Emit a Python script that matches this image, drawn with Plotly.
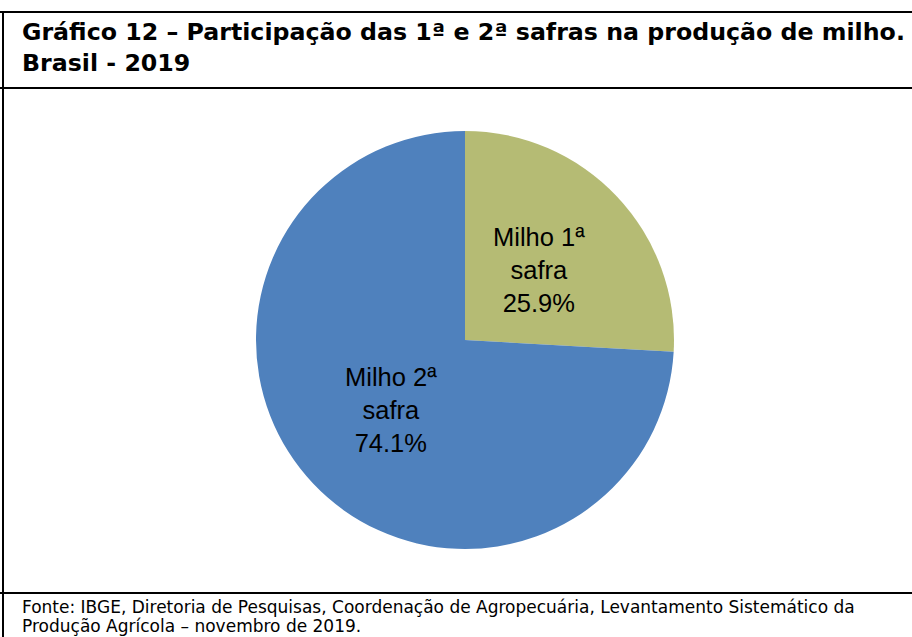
import math
import plotly.graph_objects as go

W, H = 912, 637
labels = ["Milho 1ª<br>safra", "Milho 2ª<br>safra"]
values = [25.9, 74.1]
colors = ["#B5BB74", "#4F81BD"]
title_lines = ["Gráfico 12 – Participação das 1ª e 2ª safras na produção de milho.", "Brasil - 2019"]
source_lines = ["Fonte: IBGE, Diretoria de Pesquisas, Coordenação de Agropecuária, Levantamento Sistemático da",
                "Produção Agrícola – novembro de 2019."]

def px(x): return x / W
def py(y): return 1 - y / H

# pie geometry (pixels)
CX, CY, R = 465, 340, 209
LABEL_R = 0.49

fig = go.Figure(go.Pie(
    labels=labels, values=values, sort=False, direction="clockwise", rotation=0,
    marker=dict(colors=colors, line=dict(width=0)),
    textinfo="none",
    showlegend=False, hoverinfo="skip",
    domain=dict(x=[px(CX - R), px(CX + R)], y=[py(CY + R), py(CY - R)]),
))

shapes = []
lw = 2
for (x0, y0, x1, y1) in [(0, 12, W + 5, 12), (0, 88, W + 5, 88), (0, 593, W + 5, 593), (3, 12, 3, H + 5)]:
    shapes.append(dict(type="line", xref="paper", yref="paper", x0=px(x0), y0=py(y0), x1=px(x1), y1=py(y1),
                       line=dict(color="#000000", width=lw)))

ann = []
# slice labels placed at each slice's mid-angle (clockwise from 12 o'clock)
total = sum(values)
cum = 0.0
lab_font = dict(family="Liberation Sans, Arial", size=25.5, color="#000000")
for lab, v in zip(labels, values):
    theta = 2 * math.pi * (cum + v / 2) / total
    cum += v
    lx = CX + LABEL_R * R * math.sin(theta)
    ly = CY - LABEL_R * R * math.cos(theta)
    ann.append(dict(text="%s<br>%.1f%%" % (lab, v), x=px(lx), y=py(ly), xref="paper", yref="paper",
                    xanchor="center", yanchor="middle", showarrow=False, font=lab_font))

title_font = dict(family="DejaVu Sans, Liberation Sans", size=23.7, color="#000000")
for i, t in enumerate(title_lines):
    ann.append(dict(text="<b>%s</b>" % t, x=px(20), y=py([32, 63][i]), xref="paper", yref="paper",
                    xanchor="left", yanchor="middle", showarrow=False, font=title_font))
src_font = dict(family="DejaVu Sans, Liberation Sans", size=17, color="#000000")
for i, t in enumerate(source_lines):
    ann.append(dict(text=t, x=px(20), y=py([607, 626][i]), xref="paper", yref="paper",
                    xanchor="left", yanchor="middle", showarrow=False, font=src_font))

fig.update_layout(width=W, height=H, margin=dict(l=0, r=0, t=0, b=0),
                  paper_bgcolor="#FFFFFF", plot_bgcolor="#FFFFFF",
                  shapes=shapes, annotations=ann)
fig.write_html("out.html", config={"displayModeBar": False},
               post_script="document.body.style.margin='0';")
